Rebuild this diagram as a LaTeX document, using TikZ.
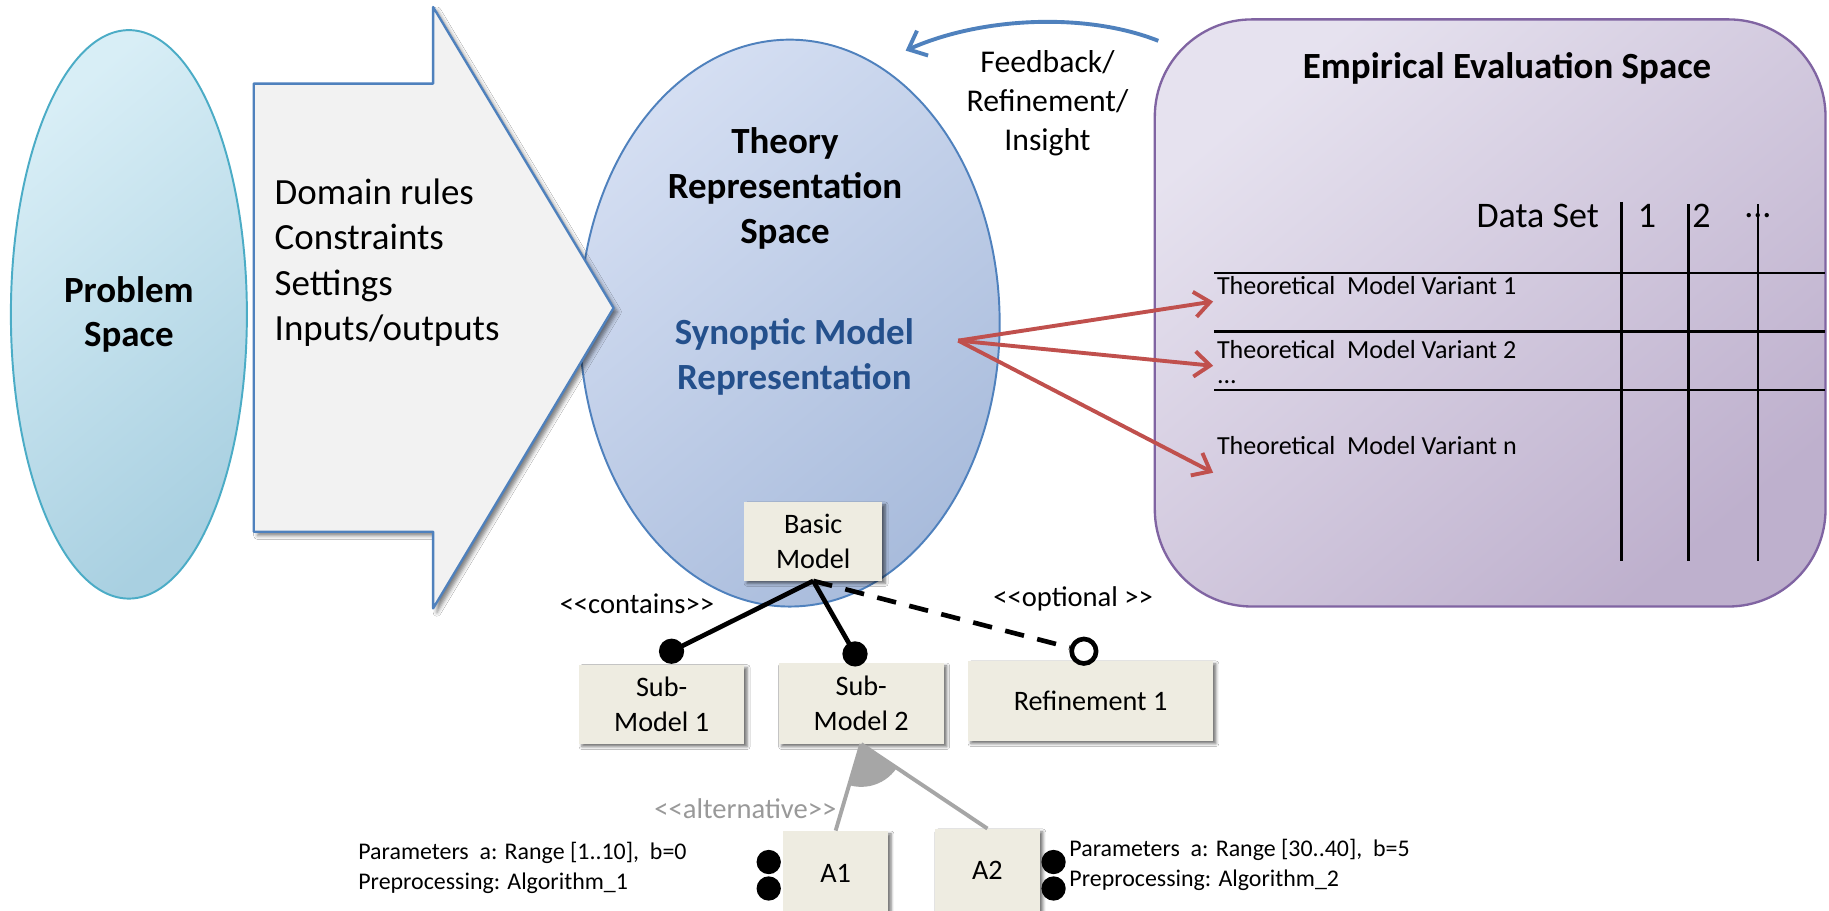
\documentclass[tikz,border=0pt]{standalone}
\usepackage{fontspec}
\setmainfont{Carlito}
\usetikzlibrary{arrows.meta, positioning, shapes.geometric, shadows.blur}
\definecolor{probline}{HTML}{4BACC6}
\definecolor{probtop}{HTML}{D8EEF6}
\definecolor{probbot}{HTML}{A9D0E1}
\definecolor{theoline}{HTML}{4F81BD}
\definecolor{theotop}{HTML}{D4DEF2}
\definecolor{theobot}{HTML}{A9BCDC}
\definecolor{evalline}{HTML}{8064A2}
\definecolor{evaltop}{HTML}{E6E2EF}
\definecolor{evalbot}{HTML}{BEB0CD}
\definecolor{arrowfill}{HTML}{F2F2F2}
\definecolor{boxfill}{HTML}{EEECE1}
\definecolor{synblue}{HTML}{24508C}
\definecolor{fbblue}{HTML}{4F81BD}
\definecolor{varred}{HTML}{C0504D}
\definecolor{altgrey}{HTML}{A6A6A6}
\definecolor{alttext}{HTML}{999999}
\newcommand{\stereotype}[1]{<\kern0pt<#1>\kern0pt>}

\begin{document}
\begin{tikzpicture}[x=0.6pt, y=-0.6pt, line join=round]
    \tikzstyle{problem oval}=[ellipse, draw=probline, line width=1pt, top color=probtop, bottom color=probbot, shading angle=40, inner sep=0pt, minimum width=121.4pt, minimum height=292.4pt, align=center, font=\fontsize{19}{23}\selectfont\bfseries]
    \tikzstyle{theory oval}=[ellipse, draw=theoline, line width=1pt, top color=theotop, bottom color=theobot, shading angle=40, inner sep=0pt, minimum width=216pt, minimum height=291.6pt]
    \tikzstyle{eval box}=[rectangle, rounded corners=50pt, draw=evalline, line width=1.2pt, top color=evaltop, bottom color=evalbot, shading angle=40, minimum width=345pt, minimum height=302pt]
    \tikzstyle{model box}=[rectangle, fill=boxfill, inner sep=0pt, align=center, font=\fontsize{14.5}{18}\selectfont, blur shadow={shadow xshift=1.5pt, shadow yshift=-1.5pt, shadow blur radius=1.5pt, shadow opacity=55}]
    \tikzstyle{full dot}=[circle, fill=black, inner sep=0pt, minimum size=13pt]
    \tikzstyle{small dot}=[circle, fill=black, inner sep=0pt, minimum size=12.5pt]
    \tikzstyle{open dot}=[circle, draw=black, fill=white, line width=2.4pt, inner sep=0pt, minimum size=12.6pt]
    \tikzstyle{contain}=[line width=2.4pt]
    \tikzstyle{optional}=[line width=2.4pt, dash pattern=on 10pt off 7pt]
    \tikzstyle{alt line}=[draw=altgrey, line width=2pt]
    \tikzstyle{stereo}=[inner sep=0pt, font=\fontsize{14.7}{17}\selectfont]
    \tikzstyle{param}=[inner sep=0pt, anchor=west, align=left, font=\fontsize{12.3}{15.5}\selectfont]
    \tikzstyle{row label}=[inner sep=0pt, anchor=west, font=\fontsize{13.4}{16}\selectfont]
    \tikzstyle{grid line}=[line width=1.2pt]
    \tikzstyle{feedback}=[-{Straight Barb[length=8pt,width=14pt]}, draw=fbblue, line width=2pt]
    \tikzstyle{variant}=[-{Straight Barb[length=8pt,width=13pt]}, draw=varred, line width=2pt]

    \useasboundingbox (0,0) rectangle (1568,781);
    \fill[white] (0,0) rectangle (1568,781);

    % Problem space on the left
    \node[problem oval] (problem) at (110.5,269.5) {Problem\\Space};

    % Theory representation space, under the big arrow
    \node[theory oval] (theory) at (677,277) {};
    \node[align=center, inner sep=0pt, font=\fontsize{19}{23}\selectfont\bfseries] (theotitle) at (673,161.7) {Theory\\Representation\\Space};
    \node[align=center, inner sep=0pt, text=synblue, font=\fontsize{19}{23}\selectfont\bfseries] (synoptic) at (681,306) {Synoptic Model\\Representation};

    % The big arrow with the domain knowledge
    \draw[fill=arrowfill, draw=theoline, line width=1.2pt, blur shadow={shadow xshift=2pt, shadow yshift=-2pt, shadow blur radius=2pt, shadow opacity=50}]
        (217.5,71.7) -- (371.3,71.7) -- (371.3,6) -- (526,264) -- (371.3,521.6) -- (371.3,455.8) -- (217.5,455.8) -- cycle;
    \node[anchor=west, align=left, inner sep=0pt, font=\fontsize{19}{23.4}\selectfont] (rules) at (235.2,225.2)
        {Domain rules\\Constraints\\Settings\\Inputs/outputs};

    % Empirical evaluation space with its table
    \node[eval box] (eval) at (1277.5,268.3) {};
    \node[inner sep=0pt, font=\fontsize{19}{23}\selectfont\bfseries] (evaltitle) at (1292,58.4) {Empirical Evaluation Space};
    \node[inner sep=0pt, anchor=east, font=\fontsize{18.5}{22}\selectfont] (dataset) at (1371,185) {Data Set};
    \foreach \name/\x in {1/1412,2/1458.6}
        \node[inner sep=0pt, font=\fontsize{18.5}{22}\selectfont] (ds-\name) at (\x,185) {\name};
    \node[inner sep=0pt, font=\fontsize{18.5}{22}\selectfont] (ds-n) at (1507,185) {...};
    \foreach \x/\top in {1390.2/173,1447.6/175,1507/175}
        \draw[grid line] (\x,\top) -- (\x,481);
    \foreach \y in {234,284.2,334.2}
        \draw[grid line] (1041,\y) -- (1564.7,\y);
    \node[row label] (var-1) at (1043,245.2) {Theoretical~ Model Variant 1};
    \node[row label] (var-2) at (1043,300) {Theoretical~ Model Variant 2};
    \node[row label] (var-d) at (1043,328) {...};
    \node[row label] (var-n) at (1043,382) {Theoretical~ Model Variant n};

    % Feedback from the evaluation back to the theory
    \coordinate (fb-start) at (993,35);
    \coordinate (fb-end) at (776.4,43.4);
    \draw[feedback] (fb-start) .. controls (930,10) and (840,15) .. (fb-end);
    \node[align=center, inner sep=0pt, font=\fontsize{16.3}{20}\selectfont] (fbtext) at (898,88.4) {Feedback/\\Refinement/\\Insight};

    % Model variants fed into the table
    \coordinate (syn-out) at (821.5,292);
    \foreach \name/\y in {1/258.5,2/313.6,n/405.3}
        \coordinate (var-\name-in) at (1040,\y);
    \foreach \name in {1,2,n}
        \draw[variant] (syn-out) -- (var-\name-in);

    % Feature tree of the synoptic model
    \node[model box, minimum width=71.1pt, minimum height=40.4pt] (basic) at (697.2,464) {Basic\\Model};
    \node[model box, minimum width=85pt, minimum height=40.6pt] (sub-1) at (567.2,603.7) {Sub-\\Model 1};
    \node[model box, minimum width=85pt, minimum height=41.5pt] (sub-2) at (738.3,603) {Sub-\\Model 2};
    \node[model box, minimum width=126pt, minimum height=41pt] (refine) at (934.9,600.8) {Refinement 1};
    \node[model box, minimum width=54pt, minimum height=43.2pt] (alt-1) at (716.4,748.4) {A1};
    \node[model box, minimum width=54pt, minimum height=43pt] (alt-2) at (846.5,746.5) {A2};

    \node[full dot] (dot-1) at (575.7,558.3) {};
    \node[full dot] (dot-2) at (733,560.6) {};
    \node[open dot] (dot-r) at (929.2,558.3) {};
    \draw[contain] (basic.south) -- (dot-1.center);
    \draw[contain] (basic.south) -- (dot-2.center);
    \draw[optional] (basic.south) -- (dot-r);
    \node[stereo] (contains) at (546,517.5) {\stereotype{contains}};
    \node[stereo] (optional) at (920,513.2) {\stereotype{optional }};

    % Alternatives of sub-model 2
    \begin{scope}
        \clip (sub-2.south) -- (alt-1.north) -- (alt-2.north) -- cycle;
        \fill[altgrey] (sub-2.south) circle (22pt);
    \end{scope}
    \draw[alt line] (sub-2.south) -- (alt-1.north);
    \draw[alt line] (sub-2.south) -- (alt-2.north);
    \node[stereo, text=alttext] (alternative) at (639,693.4) {\stereotype{alternative}};

    \foreach \name/\y in {a/739,b/761.7} {
        \node[small dot] (alt-1-\name) at (659,\y) {};
        \node[small dot] (alt-2-\name) at (903.2,\y) {};
    }
    \node[param] (param-1) at (306.9,744) {Parameters~ a: Range [1..10],~ b=0\\Preprocessing: Algorithm\_1};
    \node[param] (param-2) at (916.5,741.2) {Parameters~ a: Range [30..40],~ b=5\\Preprocessing: Algorithm\_2};
\end{tikzpicture}
\end{document}
